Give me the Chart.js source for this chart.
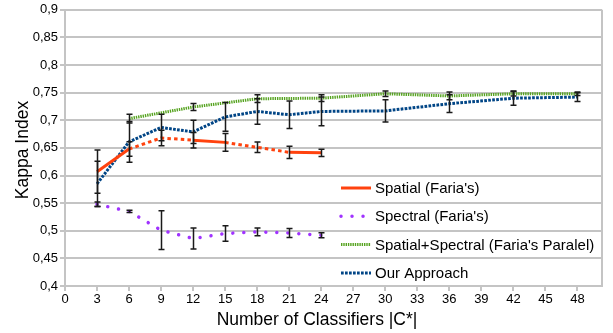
<!DOCTYPE html>
<html>
<head>
<meta charset="utf-8">
<script src="https://cdn.jsdelivr.net/npm/chart.js@4.4.0/dist/chart.umd.min.js"></script>
<style>
  body { margin: 0; background: #fff; }
</style>
</head>
<body>
<canvas id="kappaChart" width="613" height="333"></canvas>
<script>
// values
const xShort = [3, 6, 9, 12, 15, 18, 21, 24];
const xFusion = [6, 12, 18, 24, 30, 36, 42, 48];
const xOurs = [3, 6, 9, 12, 15, 18, 21, 24, 30, 36, 42, 48];

const spatial = [0.607, 0.648, 0.668, 0.664, 0.660, 0.651, 0.642, 0.641];
const spatialErr = [0.039, 0.013, 0.014, 0.014, 0.016, 0.0095, 0.011, 0.0065];

const spectral = [0.548, 0.535, 0.501, 0.486, 0.495, 0.498, 0.496, 0.492];
const spectralErr = [0.004, 0.002, 0.035, 0.019, 0.014, 0.007, 0.008, 0.0045];

const fusion = [0.703, 0.724, 0.739, 0.740, 0.748, 0.744, 0.748, 0.748];
const fusionErr = [0.008, 0.0065, 0.007, 0.006, 0.005, 0.007, 0.004, 0.003];

const ours = [0.585, 0.661, 0.687, 0.679, 0.706, 0.716, 0.710, 0.716, 0.717, 0.730, 0.740, 0.742];
const oursErr = [0.041, 0.037, 0.024, 0.021, 0.026, 0.023, 0.025, 0.026, 0.020, 0.016, 0.013, 0.008];

const xTicks = [0, 3, 6, 9, 12, 15, 18, 21, 24, 27, 30, 33, 36, 39, 42, 45, 48];
const yTicks = [0.4, 0.45, 0.5, 0.55, 0.6, 0.65, 0.7, 0.75, 0.8, 0.85, 0.9];

// segments of the red line that look dotted in the original
const redDotted = [1, 2, 4, 5];

const FONT = "'Liberation Sans', Arial, sans-serif";
const GRID = '#c4c4c4';

const pts = (xs, ys) => xs.map((x, i) => ({ x: x, y: ys[i] }));

const datasets = [
  {
    label: "Spatial (Faria's)",
    data: pts(xShort, spatial),
    err: spatialErr,
    borderColor: '#ff420e',
    borderWidth: 3,
    segment: {
      borderDash: ctx => redDotted.includes(ctx.p0DataIndex) ? [3.5, 3.2] : undefined
    }
  },
  {
    label: "Spectral (Faria's)",
    data: pts(xShort, spectral),
    err: spectralErr,
    borderColor: '#a033ff',
    borderWidth: 3.5,
    borderDash: [0.01, 11],
    borderCapStyle: 'round'
  },
  {
    label: "Spatial+Spectral (Faria's Paralel)",
    data: pts(xFusion, fusion),
    err: fusionErr,
    borderColor: '#55a31f',
    borderWidth: 3,
    borderDash: [1.4, 0.9]
  },
  {
    label: 'Our Approach',
    data: pts(xOurs, ours),
    err: oursErr,
    borderColor: '#004586',
    borderWidth: 3,
    borderDash: [2.7, 1.3]
  }
];

const errorBars = {
  id: 'errorBars',
  afterDatasetsDraw(chart) {
    const { ctx, scales: { x, y } } = chart;
    ctx.save();
    ctx.strokeStyle = '#1a1a1a';
    ctx.lineWidth = 1.5;
    chart.data.datasets.forEach(ds => {
      ds.data.forEach((p, i) => {
        const e = ds.err[i];
        if (!e) return;
        const px = Math.round(x.getPixelForValue(p.x)) + 0.5;
        const top = y.getPixelForValue(p.y + e);
        const bot = y.getPixelForValue(p.y - e);
        ctx.beginPath();
        ctx.moveTo(px, top); ctx.lineTo(px, bot);
        ctx.moveTo(px - 3, top); ctx.lineTo(px + 3, top);
        ctx.moveTo(px - 3, bot); ctx.lineTo(px + 3, bot);
        ctx.stroke();
      });
    });
    ctx.restore();
  }
};

const frameAndText = {
  id: 'frameAndText',
  afterDraw(chart) {
    const { ctx, chartArea: a } = chart;
    ctx.save();
    // right wall
    ctx.strokeStyle = GRID;
    ctx.lineWidth = 2;
    ctx.beginPath();
    ctx.moveTo(a.right, a.top); ctx.lineTo(a.right, a.bottom);
    ctx.stroke();

    // axis titles
    ctx.fillStyle = '#000';
    ctx.font = '17.5px ' + FONT;
    ctx.textAlign = 'center';
    ctx.textBaseline = 'middle';
    ctx.fillText('Number of Classifiers |C*|', 317, 320);
    ctx.save();
    ctx.translate(23, 150);
    ctx.rotate(-Math.PI / 2);
    ctx.fillText('Kappa Index', 0, 0);
    ctx.restore();

    // legend (no frame, sits over the grid)
    ctx.font = '15px ' + FONT;
    ctx.textAlign = 'left';
    chart.data.datasets.forEach((ds, i) => {
      const cy = 188 + i * 28.3;
      ctx.save();
      ctx.strokeStyle = ds.borderColor;
      ctx.lineWidth = ds.borderWidth;
      ctx.lineCap = ds.borderCapStyle || 'butt';
      ctx.setLineDash(ds.borderDash || []);
      ctx.beginPath();
      ctx.moveTo(341, cy); ctx.lineTo(371, cy);
      ctx.stroke();
      ctx.restore();
      ctx.fillStyle = '#000';
      ctx.fillText(ds.label, 375, cy + 1);
    });
    ctx.restore();
  }
};

new Chart(document.getElementById('kappaChart'), {
  type: 'scatter',
  data: { datasets: datasets.map(d => Object.assign({ showLine: true, pointRadius: 0, fill: false, tension: 0 }, d)) },
  options: {
    responsive: false,
    animation: false,
    layout: { padding: { top: 6, right: 11, left: 0, bottom: 0 } },
    plugins: { legend: { display: false }, tooltip: { enabled: false } },
    scales: {
      x: {
        type: 'linear',
        min: 0,
        max: 50.3,
        afterBuildTicks: s => { s.ticks = xTicks.map(v => ({ value: v })); },
        afterFit: s => { s.height = 47; },
        ticks: { color: '#000', font: { family: FONT, size: 13 }, padding: 1, maxRotation: 0, autoSkip: false },
        grid: { drawOnChartArea: false, color: GRID, lineWidth: 2, tickLength: 5 },
        border: { color: GRID, width: 2 }
      },
      y: {
        min: 0.4,
        max: 0.9,
        afterBuildTicks: s => { s.ticks = yTicks.map(v => ({ value: v })); },
        afterFit: s => { s.width = 65; },
        ticks: {
          color: '#000',
          font: { family: FONT, size: 13 },
          padding: 2,
          autoSkip: false,
          callback: v => v.toFixed(2).replace(/0$/, '').replace('.', ',')
        },
        grid: { color: GRID, lineWidth: 2, tickLength: 5 },
        border: { color: GRID, width: 2 }
      }
    }
  },
  plugins: [errorBars, frameAndText]
});
</script>
</body>
</html>
